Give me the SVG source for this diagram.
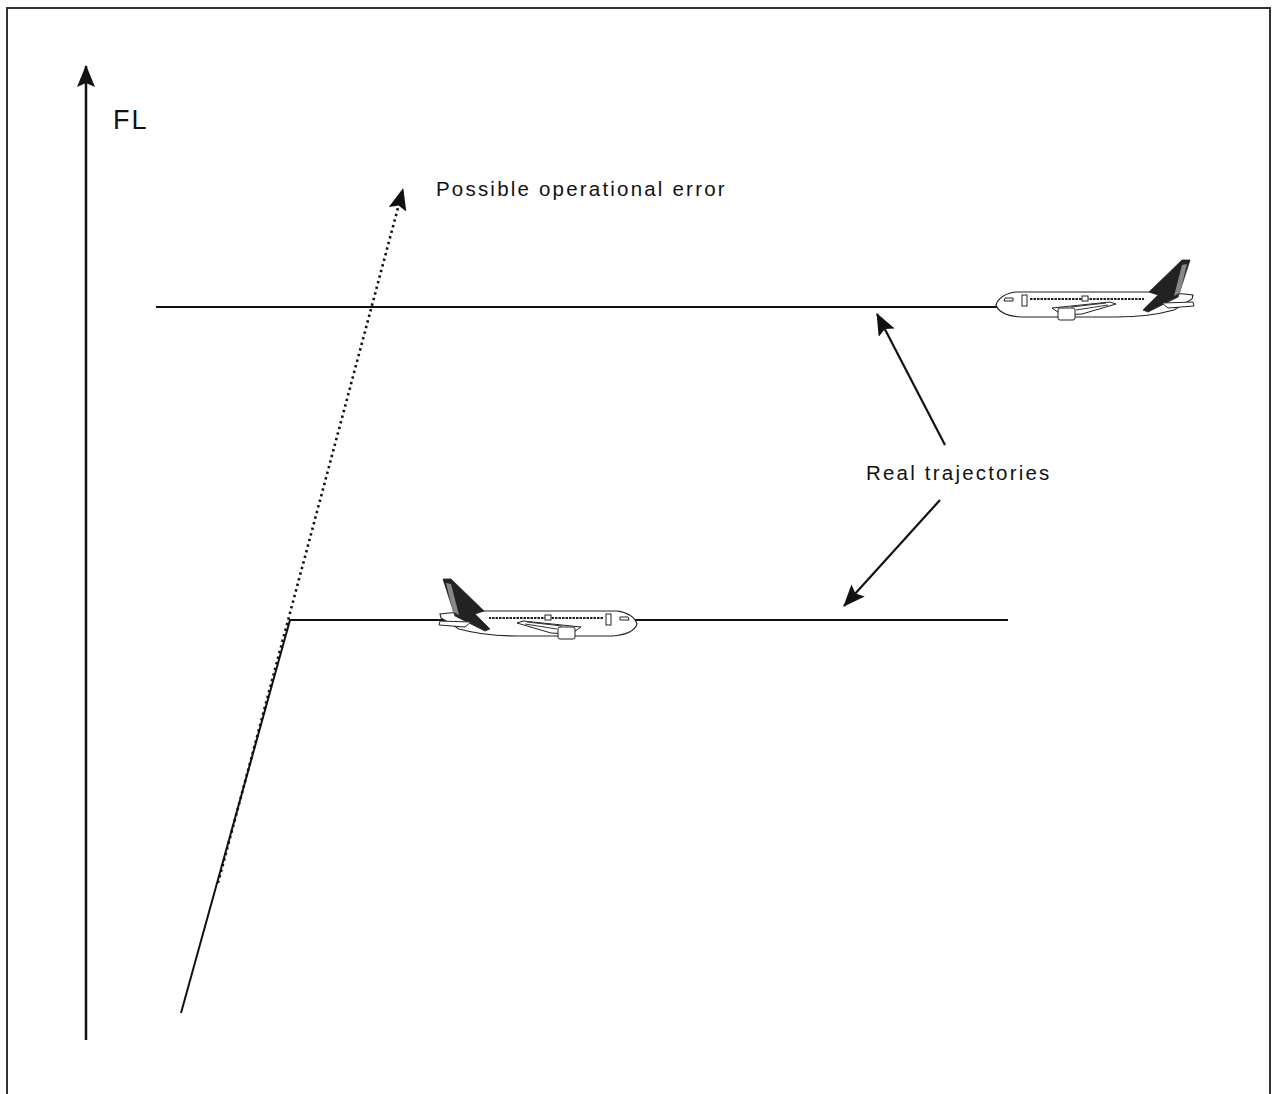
<svg xmlns="http://www.w3.org/2000/svg" width="1273" height="1094" viewBox="0 0 1273 1094">
  <style>
    .lbl { font-family: "Liberation Sans", Arial, sans-serif; fill: #111; }
    .traj { stroke: #111; stroke-width: 2; fill: none; }
    .ptr { stroke: #111; stroke-width: 2.2; fill: none; marker-end: url(#head); }
    .hull { fill: #fff; stroke: #222; stroke-width: 1.1; }
    .fin { fill: #222; stroke: #222; stroke-width: 0.8; }
    .part { fill: #fff; stroke: #222; stroke-width: 1; }
  </style>
  <defs>
    <marker id="head" viewBox="0 0 22 18" refX="21" refY="9" markerWidth="22" markerHeight="18" markerUnits="userSpaceOnUse" orient="auto">
      <path d="M0,0 L22,9 L0,18 L4,9 Z" fill="#111"/>
    </marker>
    <!-- side view of an airliner, nose at the origin, heading left -->
    <g id="airliner">
      <path class="hull" d="M0,0 C2,-7 10,-12 20,-13 L155,-13 L188,-11 L197,-10 L196,-6 L178,5 C160,10 140,12 120,12 L25,12 C10,11 2,6 0,0 Z"/>
      <path class="fin" d="M153,-13 L186,-45 L194,-45 L182,-8 L152,7 L147,5 L162,-10 Z"/>
      <path d="M186,-40 L191,-41 L184,-12 L178,-9 Z" fill="#888"/>
      <path class="part" d="M166,-2 L197,-3 L198,1 L172,3 Z"/>
      <path class="part" d="M56,3 L114,-3 L120,-1 L86,9 L66,10 Z"/>
      <path d="M75,2 L110,-2 M80,5 L112,0" stroke="#333" stroke-width="1" fill="none"/>
      <rect class="part" x="62" y="3" width="17" height="12" rx="2"/>
      <rect class="part" x="26" y="-10" width="5" height="11"/>
      <path d="M9,-7 L17,-7 L17,-4 L8,-4 Z" fill="#fff" stroke="#222" stroke-width="1"/>
      <line x1="34" y1="-6" x2="148" y2="-6" stroke="#222" stroke-width="2" stroke-dasharray="2.5,1"/>
      <rect class="part" x="86" y="-9" width="6" height="5"/>
    </g>
  </defs>

  <rect width="1273" height="1094" fill="#fff"/>
  <!-- frame, open at the bottom -->
  <rect x="7" y="8" width="1263" height="1110" fill="none" stroke="#333" stroke-width="2"/>

  <g id="connectors">
    <!-- flight level axis -->
    <line x1="86" y1="1040" x2="86" y2="66" stroke="#111" stroke-width="2.5" marker-end="url(#head)"/>
    <!-- upper cruise level -->
    <line class="traj" x1="156" y1="307" x2="1000" y2="307"/>
    <!-- climb then level-off -->
    <path class="traj" d="M181,1013 L290,620" stroke-width="1.4"/>
    <line class="traj" x1="289" y1="620" x2="1008" y2="620"/>
    <!-- continued climb through the upper level -->
    <line x1="218" y1="883" x2="403" y2="189" stroke="#111" stroke-width="2.6" stroke-dasharray="2.4,3.4" marker-end="url(#head)"/>
    <!-- label pointers -->
    <line class="ptr" x1="945" y1="445" x2="877" y2="314"/>
    <line class="ptr" x1="940" y1="500" x2="844" y2="606"/>
  </g>

  <g id="plane-upper">
    <use href="#airliner" transform="translate(996,305)"/>
  </g>
  <g id="plane-lower">
    <use href="#airliner" transform="translate(637,624) scale(-1,1)"/>
  </g>

  <g id="labels">
    <text class="lbl" x="113" y="129" font-size="27" letter-spacing="2">FL</text>
    <text class="lbl" x="436" y="196" font-size="20.5" letter-spacing="2.2">Possible operational error</text>
    <text class="lbl" x="866" y="480" font-size="20.5" letter-spacing="2.2">Real trajectories</text>
  </g>
</svg>
